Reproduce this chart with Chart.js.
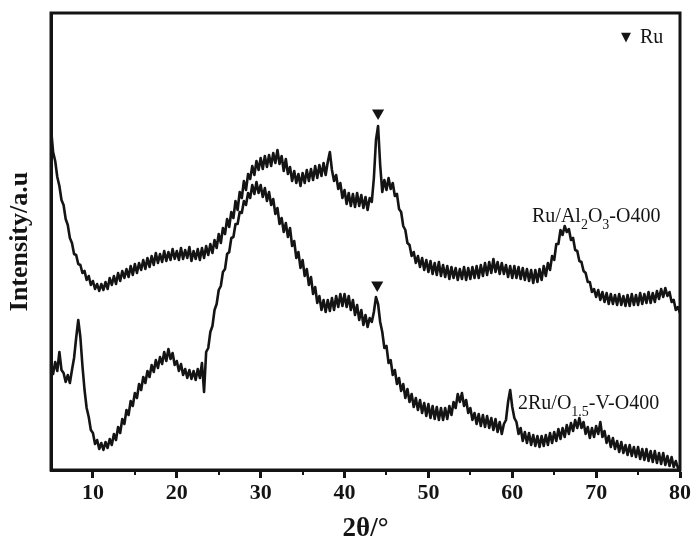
<!DOCTYPE html>
<html><head><meta charset="utf-8">
<script src="https://cdn.jsdelivr.net/npm/chart.js@4.4.0/dist/chart.umd.min.js"></script>
<style>html,body{margin:0;padding:0;background:#fff}#wrap{width:700px;height:548px}</style>
</head><body><div id="wrap"><canvas id="c" width="700" height="548"></canvas></div>
<script>
// 2θ sampling grid (degrees)
const startAngle = 5, stepAngle = 0.25;
// Ru/Al2O3-O400 intensity (a.u.), one value per 0.25°
const ruAl2O3 = [
342,318,309,293,284,270,265,251,245,232,227,216,215,206,205,197,199,190,194,185,
189,181,186,179,186,180,188,181,192,185,194,186,197,189,199,192,201,193,204,195,
206,197,207,200,210,201,212,203,214,205,217,207,216,208,219,209,218,210,221,211,
219,210,222,211,220,212,223,209,219,211,221,210,222,212,224,215,226,217,230,222,
236,227,242,236,251,243,258,252,269,260,278,272,289,280,296,291,304,295,309,300,
312,301,314,303,315,304,317,307,320,306,314,299,311,296,303,289,299,287,296,284,
297,287,300,289,301,290,304,292,305,294,307,295,308,318,300,289,295,281,287,272,
280,266,277,264,276,263,277,264,275,262,273,260,272,268,292,330,344,305,278,290,
280,292,281,287,274,276,261,258,244,240,227,225,214,218,207,214,203,212,200,210,
198,209,196,207,195,208,194,205,193,204,191,203,192,202,190,201,191,203,190,202,
191,203,192,204,192,205,194,207,195,208,197,211,198,208,196,207,196,205,193,204,
192,204,192,203,191,202,190,201,189,200,187,200,188,201,190,204,194,207,200,214,
210,226,226,240,235,244,238,241,230,232,220,219,209,208,199,197,188,188,178,181,
173,180,170,178,168,177,166,176,166,175,165,176,165,174,164,175,164,176,165,175,
165,177,166,176,167,178,167,177,168,179,171,181,173,182,174,178,168,170,160,163,
157];
// 2Ru/O1.5-V-O400 intensity (a.u.), one value per 0.25°
const ruOV = [
103,96,108,99,118,100,97,88,95,87,100,112,132,150,133,104,80,62,53,40,
37,26,30,21,27,20,28,22,31,25,36,30,43,37,51,46,60,55,69,64,
77,72,86,80,93,87,99,93,105,98,110,102,113,106,118,109,121,111,117,105,
109,99,106,95,101,92,100,91,99,90,101,92,107,78,118,122,138,144,160,166,
180,184,198,201,216,218,232,233,246,246,258,257,269,265,277,272,285,276,288,277,
285,273,282,269,278,265,271,256,262,246,252,238,247,233,242,224,229,212,218,202,
210,194,201,185,193,176,183,167,174,160,170,158,170,159,172,160,174,163,176,164,
176,163,174,160,170,155,165,150,160,145,155,143,152,148,158,173,166,148,138,122,
124,107,110,95,100,86,92,79,86,72,81,68,76,63,72,60,70,57,67,54,
66,52,64,51,63,50,62,50,62,51,64,55,68,62,76,68,77,64,70,57,
62,50,57,46,56,44,55,43,54,42,52,40,51,38,48,36,46,50,68,80,
63,52,48,36,42,29,38,27,37,25,35,24,34,23,34,24,35,25,37,27,
38,29,41,31,42,33,45,36,47,39,50,42,52,42,48,36,43,32,42,33,
44,36,48,33,39,27,34,23,32,21,29,18,28,17,25,15,25,14,23,13,
23,11,21,10,21,9,19,8,19,7,17,6,17,5,14,4,13,3,9,2,
4];
// Ru reflection markers (2θ, intensity)
const ruMarkerAngles = [44.0, 43.9];
const ruMarkerHeights = [357, 185];
const majorTicks = [10, 20, 30, 40, 50, 60, 70, 80];
const minorTicks = [15, 25, 35, 45, 55, 65, 75];

const twoTheta = ruAl2O3.map((_, i) => startAngle + i * stepAngle);
const toPts = arr => arr.map((v, i) => ({x: twoTheta[i], y: v}));
const INK = '#141414';
const SERIF = '"Liberation Serif", "Times New Roman", serif';

const decor = {
  id: 'decor',
  afterDraw(chart) {
    const {ctx, chartArea: a, scales: {x}} = chart;
    ctx.save();
    ctx.strokeStyle = INK;
    ctx.lineWidth = 3;
    ctx.strokeRect(a.left, a.top, a.right - a.left, a.bottom - a.top);
    ctx.lineWidth = 2;
    minorTicks.forEach(v => {
      const px = Math.round(x.getPixelForValue(v));
      ctx.beginPath(); ctx.moveTo(px, a.bottom); ctx.lineTo(px, a.bottom + 5); ctx.stroke();
    });
    ctx.fillStyle = INK;
    ctx.textBaseline = 'alphabetic';
    // legend
    ctx.font = '13px "DejaVu Sans"';
    ctx.fillText('▼', 621, 41);
    ctx.font = '20px ' + SERIF;
    ctx.fillText('Ru', 640, 43);
    // series labels with subscripts
    const drawRich = (parts, x0, y0) => {
      let cx = x0;
      parts.forEach(([t, sub]) => {
        ctx.font = (sub ? '14px ' : '20px ') + SERIF;
        ctx.fillText(t, cx, y0 + (sub ? 7 : 0));
        cx += ctx.measureText(t).width;
      });
    };
    drawRich([['Ru/Al', 0], ['2', 1], ['O', 0], ['3', 1], ['-O400', 0]], 532, 222);
    drawRich([['2Ru/O', 0], ['1.5', 1], ['-V-O400', 0]], 518, 409);
    ctx.restore();
  }
};

new Chart(document.getElementById('c'), {
  type: 'line',
  data: {
    datasets: [
      {label: 'Ru/Al2O3-O400', data: toPts(ruAl2O3), borderColor: INK, borderWidth: 2.6, borderJoinStyle: 'round', pointRadius: 0, tension: 0},
      {label: '2Ru/O1.5-V-O400', data: toPts(ruOV), borderColor: INK, borderWidth: 2.6, borderJoinStyle: 'round', pointRadius: 0, tension: 0},
      {label: 'Ru', data: ruMarkerAngles.map((a, i) => ({x: a, y: ruMarkerHeights[i]})), showLine: false,
       pointStyle: 'triangle', rotation: 180, pointRadius: 7, backgroundColor: INK, borderColor: INK, borderWidth: 0}
    ]
  },
  options: {
    responsive: false, animation: false, devicePixelRatio: 1,
    layout: {padding: {top: 13, right: 20, left: 0, bottom: 0}},
    plugins: {legend: {display: false}, tooltip: {enabled: false}},
    scales: {
      x: {
        type: 'linear', min: 5, max: 80,
        afterBuildTicks: s => { s.ticks = majorTicks.map(v => ({value: v})); },
        ticks: {font: {family: SERIF, size: 22, weight: 'bold'}, color: INK, padding: 2, maxRotation: 0, autoSkip: false},
        grid: {display: true, drawOnChartArea: false, drawTicks: true, tickLength: 8, tickWidth: 3, tickColor: INK},
        border: {display: true, color: INK, width: 3},
        title: {display: true, text: '2θ/°', color: INK, font: {family: SERIF, size: 27, weight: 'bold'}, padding: {top: 0, bottom: 3}},
        afterFit: s => { s.height = 78; }
      },
      y: {
        min: 0, max: 457,
        ticks: {display: false},
        grid: {display: false, drawTicks: false},
        border: {display: true, color: INK, width: 3},
        title: {display: true, text: 'Intensity/a.u', color: INK, font: {family: SERIF, size: 26, weight: 'bold'}, padding: {top: 5, bottom: 0}},
        afterFit: s => { s.width = 51; }
      }
    }
  },
  plugins: [decor]
});
</script></body></html>
